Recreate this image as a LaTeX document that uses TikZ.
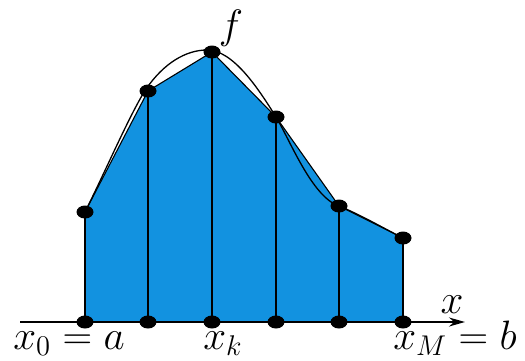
\documentclass[tikz,border=0pt]{standalone}
\usepackage{graphicx}
\usetikzlibrary{shapes.geometric,arrows.meta}
\definecolor{areablue}{RGB}{18,146,224}
\newcommand{\bigtxt}[1]{\scalebox{1.98}{\huge #1}}
\tikzset{
  dot/.style={ellipse,fill=black,minimum width=17pt,minimum height=13pt,inner sep=0pt},
  lbl/.style={anchor=base,inner sep=0pt},
  vline/.style={line width=1.3pt},
}
\begin{document}
\begin{tikzpicture}[x=1pt,y=-1pt]
\useasboundingbox (0,0) rectangle (525,360);
% base points
\coordinate (b0) at (85,322);
\coordinate (b1) at (148,322);
\coordinate (b2) at (212,322);
\coordinate (b3) at (276,322);
\coordinate (b4) at (339,322);
\coordinate (b5) at (403,322);
% top points
\coordinate (t0) at (85,212);
\coordinate (t1) at (148,91);
\coordinate (t2) at (212,52);
\coordinate (t3) at (276,117);
\coordinate (t4) at (339,206);
\coordinate (t5) at (403,238);
\coordinate (axs) at (20,322);
\coordinate (axe) at (465,322);
% area
\fill[areablue] (b0) -- (t0) -- (t1) -- (t2) -- (t3) -- (t4) -- (t5) -- (b5) -- cycle;
\draw[line width=1.1pt,line join=round] (t0) -- (t1) -- (t2) -- (t3) -- (t4) -- (t5);
% verticals
\foreach \i in {0,...,5} \draw[vline] (b\i) -- (t\i);
% curve f
\draw[line width=1.3pt] (t0) .. controls (106,170) and (130,114) .. (146,89)
  .. controls (164,63) and (186,50) .. (207,50)
  .. controls (233,50) and (258,88) .. (t3)
  .. controls (290,140) and (312,197) .. (t4)
  .. controls (361,215) and (385,229) .. (t5);
% axis
\draw[line width=1.8pt,-{Stealth[length=16pt,width=9pt]}] (axs) -- (axe);
% dots
\foreach \i in {0,...,5} {
  \node[dot] (db\i) at (b\i) {};
  \node[dot] (dt\i) at (t\i) {};
}
% labels
\node[lbl] (lf) at (231,38) {\bigtxt{$f$}};
\node[lbl] (lx) at (452,313) {\bigtxt{$x$}};
\node[lbl] (la) at (69,349) {\bigtxt{$x_0=a$}};
\node[lbl] (lk) at (223,349) {\bigtxt{$x_k$}};
\node[lbl] (lb) at (455,349) {\bigtxt{$x_M=b$}};
\end{tikzpicture}
\end{document}
